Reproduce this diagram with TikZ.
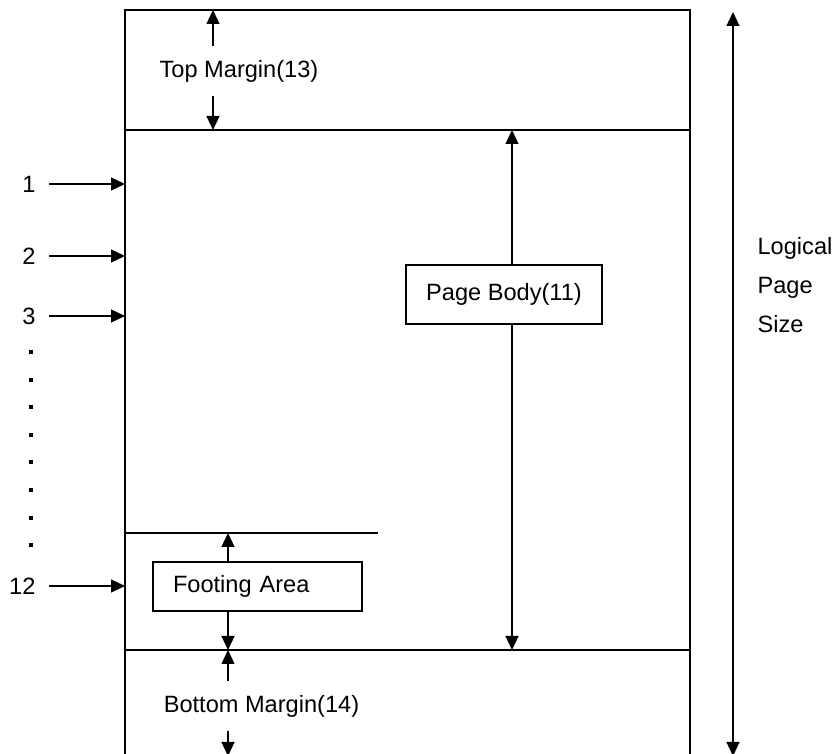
\documentclass[tikz,border=0pt]{standalone}
\usepackage{fontspec}
\setmainfont{Liberation Sans}
\usetikzlibrary{arrows.meta}

\tikzset{
  lbl/.style={font=\fontsize{11.8}{14}\selectfont, inner sep=0pt},
  areabox/.style={lbl, draw, fill=white},
}

\begin{document}
\begin{tikzpicture}[x=0.5pt, y=-0.5pt,
                    >={Triangle[width=6.5pt,length=7pt]}, line width=0.6pt
                   ]

    \useasboundingbox (0,0) rectangle (832,754);

    % page outline and the area rules
    \draw (125,760) -- (125,10) -- (690,10) -- (690,760);
    \draw (125,130) -- (690,130);
    \draw (125,650) -- (690,650);
    \draw (125,533) -- (378,533);

    \coordinate (tmt) at (213,10);
    \coordinate (tmb) at (213,130);
    \coordinate (bdt) at (512,130);
    \coordinate (bdb) at (512,650);
    \coordinate (ftt) at (228,533);
    \coordinate (ftb) at (228,650);
    \coordinate (bmb) at (228,756);
    \coordinate (lpt) at (733,12);
    \coordinate (lpb) at (733,756);

    \node [lbl, minimum height=24pt] (topm) at (239,71) {Top Margin(13)};
    \draw [->] (topm.north -| tmt) -- (tmt);
    \draw [->] (topm.south -| tmb) -- (tmb);

    \node [areabox, minimum width=98pt, minimum height=29.5pt]
        (body) at (504,294.5) {Page Body(11)};
    \draw [->] (body.north -| bdt) -- (bdt);
    \draw [->] (body.south -| bdb) -- (bdb);

    \node [areabox, minimum height=24.5pt, inner xsep=10pt,
           text width=84.5pt, align=left]
        (foot) at (257.5,586.5) {Footing Area};
    \draw [->] (foot.north -| ftt) -- (ftt);
    \draw [->] (foot.south -| ftb) -- (ftb);

    \node [lbl, minimum height=24pt] (botm) at (261.5,706) {Bottom Margin(14)};
    \draw [->] (botm.north -| ftb) -- (ftb);
    \draw [->] (botm.south -| bmb) -- (bmb);

    \draw [<->] (lpt) -- (lpb);
    \node [lbl, anchor=west, align=left, font=\fontsize{11.8}{19.5}\selectfont]
        (lps) at (757,285) {Logical\\Page\\Size};

    % line numbers
    \foreach \n/\y in {1/184, 2/256, 3/316, 12/586}{
        \node [lbl, anchor=east, inner xsep=6.5pt] (row\n) at (49,\y) {\n};
        \coordinate (edge\n) at (125,\y);
        \draw [->] (row\n.east) -- (edge\n);
    }
    \foreach \k in {0,...,7}
        \fill (29,{350+27.6*\k}) rectangle ++(4,4);

\end{tikzpicture}
\end{document}
